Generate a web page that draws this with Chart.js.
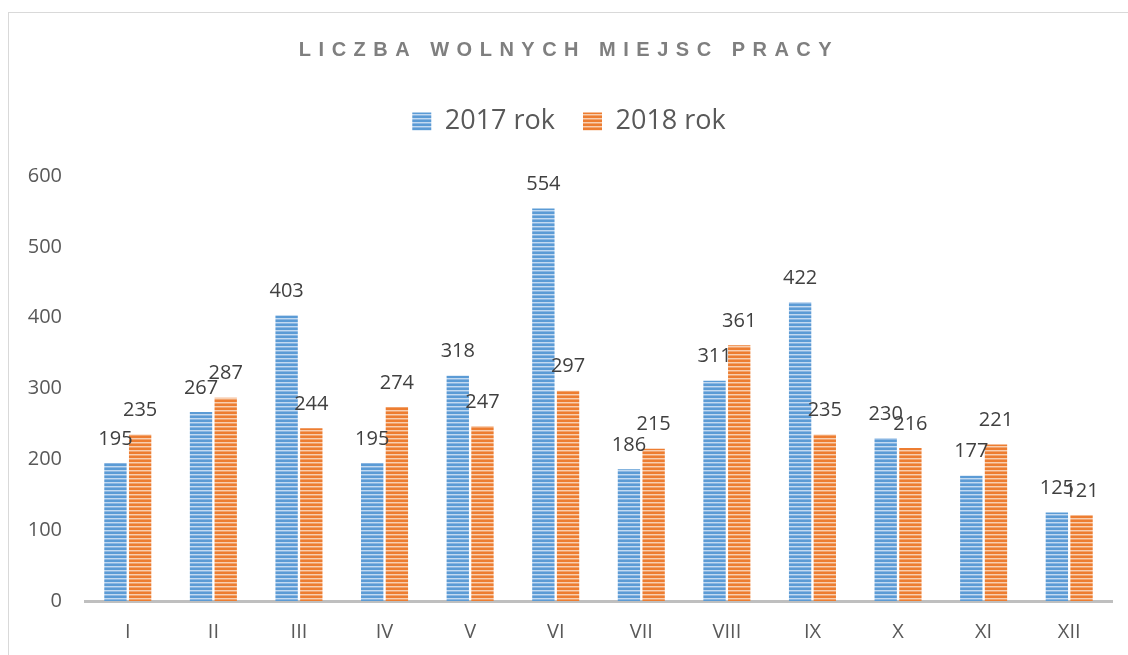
<!DOCTYPE html>
<html>
<head>
<meta charset="utf-8">
<script src="https://cdn.jsdelivr.net/npm/chart.js@4"></script>
<style>
    body { margin: 0; background: #fff; overflow: hidden; }
    #frame { position: absolute; left: 8px; top: 12px; width: 1200px; height: 700px; border: 1px solid #d9d9d9; }
    #chart { position: absolute; left: 0; top: 0; }
</style>
</head>
<body>
<div id="frame"></div>
<canvas id="chart" width="1128" height="655"></canvas>
<script>
const months = ['I', 'II', 'III', 'IV', 'V', 'VI', 'VII', 'VIII', 'IX', 'X', 'XI', 'XII'];
const data2017 = [195, 267, 403, 195, 318, 554, 186, 311, 422, 230, 177, 125];
const data2018 = [235, 287, 244, 274, 247, 297, 215, 361, 235, 216, 221, 121];
const seriesNames = ['2017 rok', '2018 rok'];
const yTicks = [0, 100, 200, 300, 400, 500, 600];

// horizontal stripe fill like the excel pattern
function stripes(dark, mid, light) {
    const c = document.createElement('canvas');
    c.width = 4;
    c.height = 4;
    const g = c.getContext('2d');
    const rows = [dark, dark, light, mid];
    rows.forEach((col, i) => {
        g.fillStyle = col;
        g.fillRect(0, i, 4, 1);
    });
    return g.createPattern(c, 'repeat');
}

const valueLabels = {
    id: 'valueLabels',
    afterDatasetsDraw(chart) {
        const ctx = chart.ctx;
        ctx.save();
        ctx.font = '20px "Open Sans"';
        ctx.fillStyle = '#404040';
        ctx.textAlign = 'center';
        ctx.textBaseline = 'middle';
        chart.data.datasets.forEach((ds, i) => {
            chart.getDatasetMeta(i).data.forEach((bar, j) => {
                ctx.fillText(ds.data[j], bar.x, bar.y - 24);
            });
        });
        ctx.restore();
    }
};

Promise.all([
    document.fonts.load('20px "Open Sans"'),
    document.fonts.load('bold 20px "Liberation Sans"')
]).catch(() => {}).then(function () {
    const el = document.getElementById('chart');
    const chart = new Chart(el, {
        type: 'bar',
        data: {
            labels: months,
            datasets: [{
                label: seriesNames[0],
                data: data2017,
                backgroundColor: stripes('#5b9bd5', '#8ab6e2', '#c3daf1'),
                borderWidth: 0
            }, {
                label: seriesNames[1],
                data: data2018,
                backgroundColor: stripes('#ed7d31', '#f2a36c', '#f8cfb1'),
                borderWidth: 0
            }]
        },
        options: {
            responsive: false,
            animation: false,
            categoryPercentage: 0.577,
            barPercentage: 0.905,
            layout: {
                padding: { left: 26, right: 16, top: 0, bottom: 0 }
            },
            plugins: {
                tooltip: { enabled: false },
                title: {
                    display: true,
                    text: 'LICZBA WOLNYCH MIEJSC PRACY',
                    color: '#7f7f7f',
                    font: { family: 'Liberation Sans', size: 20, weight: 'bold' },
                    padding: { top: 38, bottom: 18 }
                },
                // empty spacer between legend and plot
                subtitle: {
                    display: true,
                    text: '',
                    font: { size: 10 },
                    padding: { top: 0, bottom: 19 }
                },
                legend: {
                    display: true,
                    weight: 1800,
                    labels: {
                        color: '#595959',
                        font: { family: 'Open Sans', size: 27 },
                        boxWidth: 19,
                        boxHeight: 18,
                        padding: 28
                    }
                }
            },
            scales: {
                x: {
                    grid: { display: false, drawTicks: false },
                    border: { display: true, color: '#bfbfbf', width: 3 },
                    ticks: {
                        color: '#595959',
                        font: { family: 'Open Sans', size: 20 },
                        padding: 19
                    },
                    afterFit: function (scale) {
                        scale.height = 54;
                    }
                },
                y: {
                    min: yTicks[0],
                    max: yTicks[yTicks.length - 1],
                    grid: { display: false, drawTicks: false },
                    border: { display: false },
                    ticks: {
                        stepSize: 100,
                        color: '#595959',
                        font: { family: 'Open Sans', size: 20 },
                        padding: 23
                    },
                    afterFit: function (scale) {
                        scale.width = 59;
                    }
                }
            }
        },
        plugins: [valueLabels]
    });

    // title letters are spread out in the original
    const drawTitle = chart.titleBlock.draw;
    chart.titleBlock.draw = function () {
        const ctx = this.ctx;
        ctx.save();
        ctx.letterSpacing = '7.5px';
        drawTitle.apply(this, arguments);
        ctx.restore();
    };
    chart.draw();
});
</script>
</body>
</html>
